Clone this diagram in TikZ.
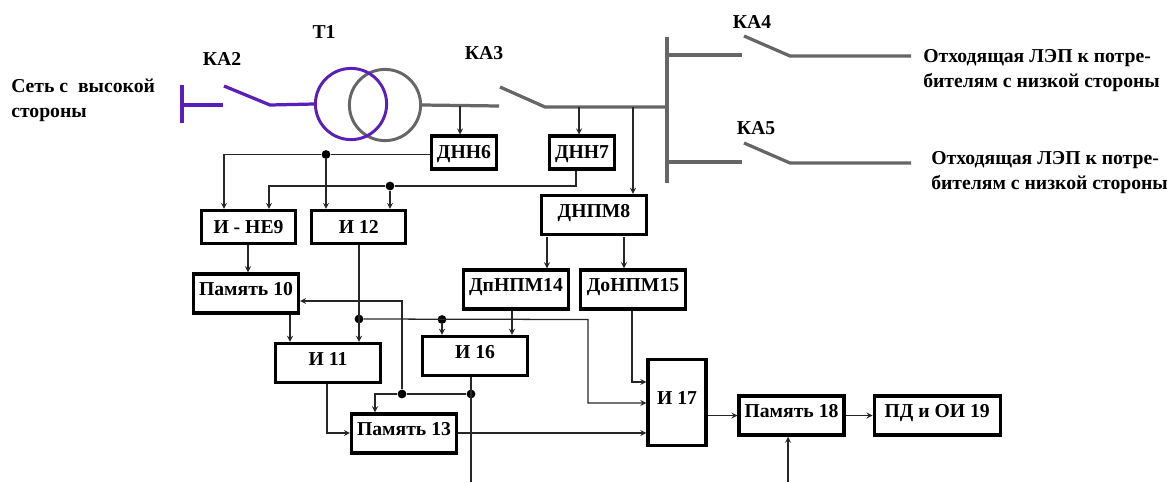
\documentclass[tikz,border=0pt]{standalone}
\usepackage{fontspec}
\setmainfont{Liberation Serif}
\usepackage{tikz}
\usetikzlibrary{arrows.meta, positioning, calc}
\definecolor{hvline}{HTML}{5A1FB8}
\definecolor{lvline}{HTML}{666666}

\begin{document}
\begin{tikzpicture}[
    x=0.025cm, y=-0.025cm,
    % --- STYLES ---
    base/.style={font=\bfseries\fontsize{14}{17.8}\selectfont},
    block/.style={base, draw, line width=2.3pt, minimum width=2.62cm, minimum height=0.98cm, inner sep=0pt, text height=9.2pt, text depth=6pt},
    logic/.style={block, minimum width=2.35cm, minimum height=0.82cm, text depth=0pt},
    sensor/.style={block, minimum width=1.62cm, minimum height=0.82cm, text depth=0pt},
    caption/.style={base, align=left, anchor=west, inner sep=0pt},
    hv/.style={line width=2.3pt, color=hvline},
    lv/.style={line width=2.3pt, color=lvline},
    winding/.style={circle, draw, line width=2.1pt, minimum size=1.78cm, inner sep=0pt},
    junction/.style={circle, fill=black, inner sep=0pt, minimum size=0.22cm},
    arrow/.style={->, >=stealth, line width=0.9pt, color=black!85},
    wire/.style={line width=0.9pt, color=black!85}
]
    \useasboundingbox (0,0) rectangle (1168,482);

    % ==========================================
    % POWER PART (Top)
    % ==========================================

    % 1. High side
    \node[caption] (grid) at (11,100.5) {Сеть с\ \ высокой\\стороны};
    \node[base] (ka2) at (222,59) {КА2};
    \node[base] (t1) at (324,32) {Т1};
    \node[base] (ka3) at (484,53) {КА3};
    \node[winding, draw=lvline] (lowside) at (385,105) {};
    \node[winding, draw=hvline] (highside) at (351,104) {};

    \coordinate (gridtop) at (182,85);
    \coordinate (gridbot) at (182,123);
    \coordinate (gridmid) at (182,105);
    \coordinate (ka2in) at (223,105);
    \coordinate (ka2blade) at (224,86);
    \coordinate (ka2out) at (270,105);
    \draw[hv] (gridtop) -- (gridbot);
    \draw[hv] (gridmid) -- (ka2in);
    \draw[hv] (ka2blade) -- (ka2out) -- (highside.west);

    % 2. Low side and bus
    \coordinate (ka3in) at (499,106);
    \coordinate (ka3blade) at (500,87);
    \coordinate (ka3out) at (545,107);
    \coordinate (bustop) at (667,37);
    \coordinate (busbot) at (667,183);
    \draw[lv] (lowside.east) -- (ka3in);
    \draw[lv] (ka3blade) -- (ka3out) -- (ka3out -| bustop);
    \draw[lv] (bustop) -- (busbot);

    % 3. Outgoing lines
    \node[base] (ka4) at (752,22) {КА4};
    \node[base] (ka5) at (756,128) {КА5};
    \coordinate (ka4in) at (742,55);
    \coordinate (ka4blade) at (744,36);
    \coordinate (ka4out) at (790,56);
    \coordinate (ka4end) at (911,56);
    \coordinate (ka5in) at (742,162);
    \coordinate (ka5blade) at (744,143);
    \coordinate (ka5out) at (790,163);
    \coordinate (ka5end) at (911,163);
    \draw[lv] (ka4in -| bustop) -- (ka4in);
    \draw[lv] (ka4blade) -- (ka4out) -- (ka4end);
    \draw[lv] (ka5in -| bustop) -- (ka5in);
    \draw[lv] (ka5blade) -- (ka5out) -- (ka5end);
    \node[caption] (line4) at (923,70.5) {Отходящая ЛЭП к потре-\\бителям с низкой стороны};
    \node[caption] (line5) at (931,172.5) {Отходящая ЛЭП к потре-\\бителям с низкой стороны};

    % ==========================================
    % PROTECTION LOGIC (Bottom)
    % ==========================================

    % 1. Blocks
    \node[sensor] (dnn6) at (464,152.5) {ДНН6};
    \node[sensor, right=1.25cm of dnn6] (dnn7) {ДНН7};
    \node[block] (dnpm8) at (594,215) {ДНПМ8};
    \node[logic] (ine9) at (248.5,227) {И - НЕ9};
    \node[logic, right=0.325cm of ine9] (and12) {И 12};
    \node[block] (mem10) at (246,293.5) {Память 10};
    \node[block] (and11) at (328,363) {И 11};
    \node[block] (and16) at (475,356) {И 16};
    \node[block] (dp14) at (516,289.5) {ДпНПМ14};
    \node[block, right=0.225cm of dp14] (do15) {ДоНПМ15};
    \node[block] (mem13) at (404,433.5) {Память 13};
    \node[block, minimum width=1.45cm, minimum height=2.15cm] (and17) at (677,402.5) {И 17};
    \node[block] (mem18) at (791.5,415.5) {Память 18};
    \node[block, right=0.675cm of mem18, minimum width=3.15cm] (pd19) {ПД и ОИ 19};

    % 2. Junctions
    \node[junction] (dot6) at (326,154.5) {};
    \node[junction] (dot7) at (390,186) {};
    \node[junction] (dot12) at (359,319) {};
    \node[junction] (dot16a) at (442,319.5) {};
    \node[junction] (dot16b) at (471,394) {};
    \node[junction] (dot13) at (402,394) {};

    % Coordinates of the free ends and corners
    \coordinate (busdnn6) at (460,106);
    \coordinate (busdnn7) at (579,107);
    \coordinate (busdnpm) at (633,107);
    \coordinate (turn6) at (224,154.5);
    \coordinate (turn7) at (269,186);
    \coordinate (out7) at (576,186);
    \coordinate (turn13) at (375,394);
    \coordinate (turn10) at (402,301);
    \coordinate (turn17) at (588,319.5);
    \coordinate (turn17b) at (588,403);
    \coordinate (in15) at (632,382);
    \coordinate (turn11) at (327,433);
    \coordinate (in8a) at (547,237);
    \coordinate (in8b) at (624,237);
    \coordinate (in14) at (512,311);
    \coordinate (in10) at (290,315);
    \coordinate (stop16) at (471,482);
    \coordinate (stop18) at (788,482);

    % Arrows from the power part
    \draw[arrow] (busdnn6) -- (busdnn6 |- dnn6.north);
    \draw[arrow] (busdnn7) -- (busdnn7 |- dnn7.north);
    \draw[arrow] (busdnpm) -- (busdnpm |- dnpm8.north);

    % Arrows of the first stage
    \draw[wire] (dnn6.west |- dot6) -- (dot6);
    \draw[arrow] (dot6) -- (turn6) -- (turn6 |- ine9.north);
    \draw[arrow] (dot6) -- (dot6 |- and12.north);
    \draw[wire] (out7 |- dnn7.south) -- (out7) -- (dot7);
    \draw[arrow] (dot7) -- (turn7) -- (turn7 |- ine9.north);
    \draw[arrow] (dot7) -- (dot7 |- and12.north);
    \draw[arrow] (ine9.south -| 248,0) -- (mem10.north -| 248,0);
    \draw[arrow] (in10) -- (in10 |- and11.north);
    \draw[arrow] (and12.south -| dot12) -- (dot12 |- and11.north);

    % Arrows of the second stage
    \draw[arrow] (in8a) -- (in8a |- dp14.north);
    \draw[arrow] (in8b) -- (in8b |- do15.north);
    \draw[arrow] (in14) -- (in14 |- and16.north);
    \draw[arrow] (dot16a) -- (dot16a |- and16.north);
    \draw[arrow] (dot12) -- (turn17) -- (turn17b) -- (turn17b -| and17.west);
    \draw[arrow] (do15.south -| in15) -- (in15) -- (in15 -| and17.west);

    % Feedback
    \draw[wire] (and16.south -| dot16b) -- (stop16);
    \draw[wire] (dot16b) -- (dot13);
    \draw[arrow] (dot13) -- (turn13) -- (turn13 |- mem13.north);
    \draw[arrow] (dot13) -- (turn10) -- (turn10 -| mem10.east);
    \draw[arrow] (and11.south -| turn11) -- (turn11) -- (turn11 -| mem13.west);

    % Output chain
    \draw[arrow] (mem13.east |- turn11) -- (and17.west |- turn11);
    \draw[arrow] (and17.east |- mem18) -- (mem18.west);
    \draw[arrow] (mem18.east) -- (pd19.west);
    \draw[arrow] (stop18) -- (stop18 |- mem18.south);

\end{tikzpicture}
\end{document}
